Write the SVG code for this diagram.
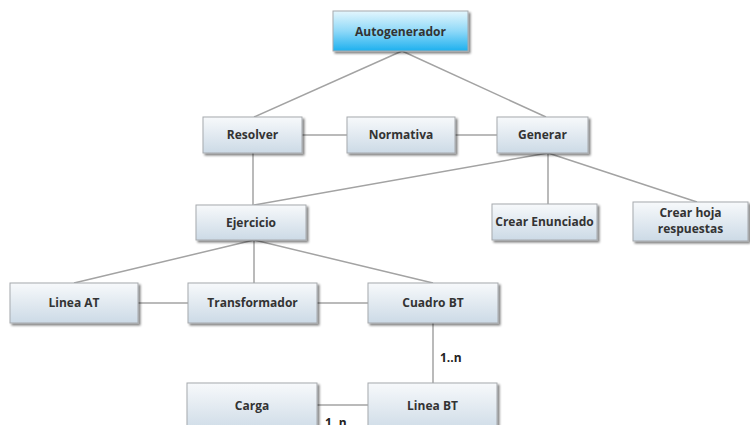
<svg xmlns="http://www.w3.org/2000/svg" width="750" height="425" viewBox="0 0 750 425">
<defs>
<linearGradient id="g" x1="0" y1="0" x2="0" y2="1">
<stop offset="0" stop-color="#f7f9fb"/>
<stop offset="1" stop-color="#ccdae6"/>
</linearGradient>
<linearGradient id="gb" x1="0" y1="0" x2="0" y2="1">
<stop offset="0" stop-color="#e4f6fd"/>
<stop offset="0.5" stop-color="#8fd9f8"/>
<stop offset="1" stop-color="#1db0ee"/>
</linearGradient>
<filter id="sh" x="-10%" y="-10%" width="130%" height="140%">
<feDropShadow dx="2" dy="2" stdDeviation="1" flood-color="#000" flood-opacity="0.5"/>
</filter>
</defs>
<style>
.n{fill:url(#g);stroke:#a6a9ad;stroke-width:1;filter:url(#sh)}
.r{fill:url(#gb);stroke:#a6a9ad;stroke-width:1;filter:url(#sh)}
.t{font-family:"Open Sans","Noto Sans",sans-serif;font-weight:bold;font-size:12px;fill:#333;text-anchor:middle}
.l{font-family:"Open Sans","Noto Sans",sans-serif;font-weight:bold;font-size:12px;fill:#222}
.c{stroke:#a3a3a3;stroke-width:1.5;fill:none}
</style>
<rect width="750" height="425" fill="#ffffff"/>
<g id="connectors">
<line class="c" x1="402" y1="51" x2="254" y2="117"/>
<line class="c" x1="402" y1="51" x2="546" y2="117"/>
<line class="c" x1="302" y1="135" x2="347" y2="135"/>
<line class="c" x1="455" y1="135" x2="497" y2="135"/>
<line class="c" x1="253" y1="153" x2="253" y2="205"/>
<line class="c" x1="548" y1="153" x2="254" y2="205"/>
<line class="c" x1="548" y1="153" x2="548" y2="204"/>
<line class="c" x1="548" y1="153" x2="697" y2="202"/>
<line class="c" x1="254" y1="240" x2="74" y2="283"/>
<line class="c" x1="254" y1="240" x2="254" y2="283"/>
<line class="c" x1="254" y1="240" x2="433" y2="283"/>
<line class="c" x1="138" y1="303" x2="188" y2="303"/>
<line class="c" x1="317" y1="303" x2="368" y2="303"/>
<line class="c" x1="433" y1="323" x2="433" y2="383"/>
<line class="c" x1="317" y1="405" x2="368" y2="405"/>
<text class="l" x="440" y="362">1..n</text>
<text class="l" x="325" y="427">1..n</text>
</g>
<g id="autogenerador"><rect class="r" x="333" y="11" width="135" height="40"/><text class="t" x="400.5" y="35.5">Autogenerador</text></g>
<g id="resolver"><rect class="n" x="203" y="117" width="99" height="36"/><text class="t" x="252.5" y="139">Resolver</text></g>
<g id="normativa"><rect class="n" x="347" y="117" width="108" height="36"/><text class="t" x="401" y="139">Normativa</text></g>
<g id="generar"><rect class="n" x="497" y="117" width="91" height="36"/><text class="t" x="542.5" y="139">Generar</text></g>
<g id="ejercicio"><rect class="n" x="196" y="205" width="110" height="35"/><text class="t" x="251" y="226.5">Ejercicio</text></g>
<g id="crear-enunciado"><rect class="n" x="492" y="204" width="105" height="36"/><text class="t" x="544.5" y="226">Crear Enunciado</text></g>
<g id="crear-hoja"><rect class="n" x="633" y="202" width="115" height="39"/><text class="t" x="690.5" y="217">Crear hoja</text><text class="t" x="690.5" y="233">respuestas</text></g>
<g id="linea-at"><rect class="n" x="10" y="283" width="128" height="40"/><text class="t" x="74" y="307">Linea AT</text></g>
<g id="transformador"><rect class="n" x="188" y="283" width="129" height="40"/><text class="t" x="252.5" y="307">Transformador</text></g>
<g id="cuadro-bt"><rect class="n" x="368" y="283" width="130" height="40"/><text class="t" x="433" y="307">Cuadro BT</text></g>
<g id="carga"><rect class="n" x="187" y="383" width="130" height="50"/><text class="t" x="252" y="410">Carga</text></g>
<g id="linea-bt"><rect class="n" x="368" y="383" width="129" height="50"/><text class="t" x="432.5" y="410">Linea BT</text></g>
</svg>
